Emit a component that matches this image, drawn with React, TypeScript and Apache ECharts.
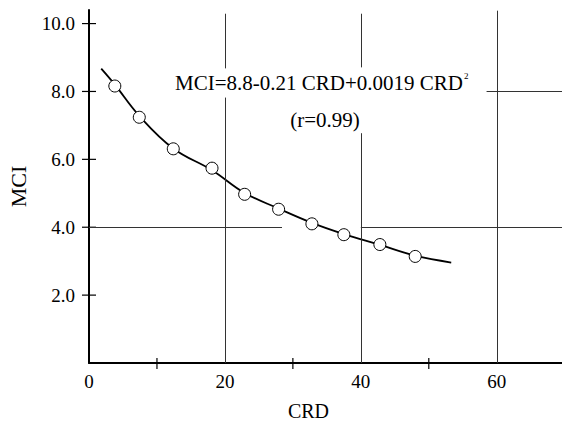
import React, { useEffect, useRef } from "react";
import * as echarts from "echarts";

// Observed data points (CRD, MCI)
const pointCRD = [3.8, 7.4, 12.4, 18.1, 22.9, 27.9, 32.8, 37.5, 42.8, 48.0];
const pointMCI = [8.16, 7.24, 6.31, 5.74, 4.97, 4.53, 4.1, 3.78, 3.49, 3.14];

// Fitted curve
const curveCRD = [1.8, 3.8, 7.4, 12.4, 18.1, 22.9, 27.9, 32.8, 37.5, 42.8, 48.0, 53.3];
const curveMCI = [8.67, 8.2, 7.28, 6.32, 5.68, 5.01, 4.55, 4.13, 3.8, 3.48, 3.16, 2.96];

// Tick values
const yTickVals = [2, 4, 6, 8, 10];
const xMinorTickVals = [10, 30, 50];

// Grid line segments [[x1, y1], [x2, y2]] as drawn in the figure
const gridSegments: number[][][] = [
  [[20, 10.29], [20, 8.68]],
  [[20, 7.82], [20, 0]],
  [[40, 10.29], [40, 8.71]],
  [[40, 6.77], [40, 0]],
  [[60, 10.38], [60, 0]],
  [[58.5, 8], [69.6, 8]],
  [[0, 4], [28.4, 4]],
  [[40, 4], [69.6, 4]],
];

const equationText = "MCI=8.8-0.21 CRD+0.0019 CRD";
const equationSup = "2";
const rText = "(r=0.99)";

const FONT = "Times New Roman, Liberation Serif, DejaVu Serif, serif";

export default function App() {
  const ref = useRef<HTMLDivElement>(null);
  useEffect(() => {
    if (!ref.current) return;
    const chart = echarts.init(ref.current, null, { renderer: "svg" });
    const isMult = (v: number, m: number) => Math.abs(v - Math.round(v / m) * m) < 1e-6;
    chart.setOption({
      animation: false,
      backgroundColor: "#fff",
      textStyle: { fontFamily: FONT },
      grid: { left: 89, right: 0, top: 10, bottom: 60, outerBoundsMode: "none", containLabel: false },
      xAxis: {
        type: "value",
        min: 0,
        max: 69.6,
        interval: 20,
        axisLine: { lineStyle: { color: "#000", width: 2 } },
        axisTick: { show: false },
        splitLine: { show: false },
        axisLabel: {
          color: "#000",
          fontFamily: FONT,
          fontSize: 19,
          margin: 9,
          formatter: (v: number) => (isMult(v, 20) ? String(Math.round(v)) : ""),
        },
        name: "CRD",
        nameLocation: "middle",
        nameGap: 38,
        nameTextStyle: { color: "#000", fontFamily: FONT, fontSize: 20, lineHeight: 20, padding: [0, 34, 0, 0] },
      },
      yAxis: {
        type: "value",
        min: 0,
        max: 10.4,
        interval: 2,
        axisLine: { show: true, lineStyle: { color: "#000", width: 2 } },
        axisTick: { show: false },
        splitLine: { show: false },
        axisLabel: {
          color: "#000",
          fontFamily: FONT,
          fontSize: 19,
          margin: 14,
          formatter: (v: number) => (v > 0 && isMult(v, 2) ? v.toFixed(1) : ""),
        },
        name: "MCI",
        nameLocation: "middle",
        nameGap: 60,
        nameTextStyle: { color: "#000", fontFamily: FONT, fontSize: 22 },
      },
      graphic: [
        {
          type: "text",
          x: 175,
          y: 83,
          z: 10,
          style: {
            text: `{a|${equationText}}{s|${equationSup}}`,
            verticalAlign: "middle",
            align: "left",
            fontFamily: FONT,
            rich: {
              a: { fontFamily: FONT, fontSize: 21, fill: "#000", lineHeight: 24 },
              s: { fontFamily: FONT, fontSize: 9, fill: "#000", verticalAlign: "top", padding: [0, 0, 0, 1] },
            },
          },
        },
        {
          type: "text",
          x: 325,
          y: 120,
          z: 10,
          style: {
            text: rText,
            fontFamily: FONT,
            fontSize: 21,
            fill: "#000",
            align: "center",
            verticalAlign: "middle",
          },
        },
      ],
      series: [
        {
          type: "line",
          data: [],
          silent: true,
          markLine: {
            silent: true,
            symbol: ["none", "none"],
            label: { show: false },
            lineStyle: { color: "#333", width: 1, type: "solid" },
            data: gridSegments.map((s) => [{ coord: s[0] }, { coord: s[1] }]),
          },
        },
        {
          type: "custom",
          clip: false,
          silent: true,
          data: yTickVals.map((v) => [0, v]),
          renderItem: (params: any, api: any) => {
            const p = api.coord([0, api.value(1)]);
            return {
              type: "line",
              shape: { x1: p[0] - 7, y1: p[1], x2: p[0] + 7, y2: p[1] },
              style: { stroke: "#000", lineWidth: 1.2 },
            };
          },
        },
        {
          type: "custom",
          clip: false,
          silent: true,
          data: xMinorTickVals.map((v) => [v, 0]),
          renderItem: (params: any, api: any) => {
            const p = api.coord([api.value(0), 0]);
            return {
              type: "line",
              shape: { x1: p[0], y1: p[1] - 5, x2: p[0], y2: p[1] + 6 },
              style: { stroke: "#000", lineWidth: 1.2 },
            };
          },
        },
        {
          type: "line",
          data: curveCRD.map((x, i) => [x, curveMCI[i]]),
          smooth: 0.4,
          showSymbol: false,
          lineStyle: { color: "#000", width: 1.8 },
          z: 3,
        },
        {
          type: "scatter",
          data: pointCRD.map((x, i) => [x, pointMCI[i]]),
          symbol: "circle",
          symbolSize: 12,
          itemStyle: { color: "#fff", borderColor: "#000", borderWidth: 1, opacity: 1 },
          z: 4,
        },
      ],
    });
    return () => chart.dispose();
  }, []);
  return (
    <div
      ref={ref}
      style={{ position: "fixed", left: 0, top: 0, width: 562, height: 423, background: "#fff" }}
    />
  );
}
